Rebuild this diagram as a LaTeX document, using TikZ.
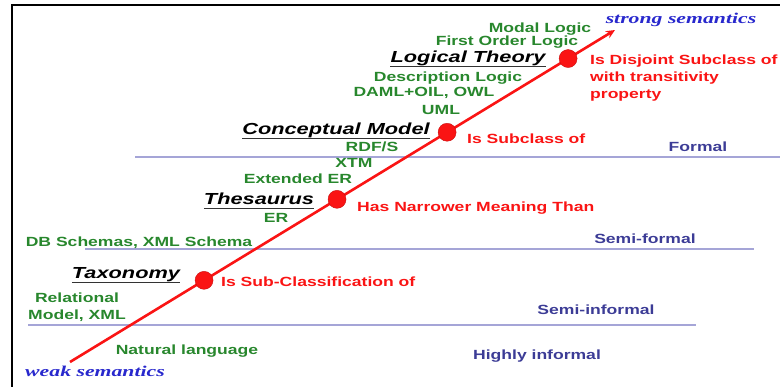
\documentclass[tikz,border=0pt]{standalone}
\usepackage{fontspec}
\setmainfont{Liberation Sans}[FakeStretch=1.32]
\newfontfamily\titlefont{Liberation Sans}[FakeStretch=1.36]
\newfontfamily\serfont{Liberation Serif}[FakeStretch=1.45]
\usetikzlibrary{arrows.meta,calc}
\definecolor{grn}{RGB}{40,135,45}
\definecolor{rd}{RGB}{250,20,20}
\definecolor{lbl}{RGB}{60,60,150}
\definecolor{sem}{RGB}{40,40,205}
\definecolor{lvl}{RGB}{165,165,215}
\tikzset{
  grtext/.style={inner sep=0pt, anchor=base, text=grn, font=\fontsize{13.3}{16.5}\selectfont\bfseries},
  rdtext/.style={inner sep=0pt, anchor=base west, text=rd, font=\fontsize{13.3}{17}\selectfont\bfseries, align=left},
  lbtext/.style={inner sep=0pt, anchor=base, text=lbl, font=\fontsize{13.3}{16}\selectfont\bfseries},
  semtext/.style={inner sep=0pt, anchor=base, text=sem, font=\fontsize{15}{18}\serfont\bfseries\itshape},
  ttext/.style={inner sep=0pt, anchor=base, text=black, font=\fontsize{16}{19}\titlefont\bfseries\itshape},
  ul/.style={line width=1.2pt, black!80},
  level/.style={line width=1.4pt, lvl},
  dot/.style={circle, fill=rd, draw=rd!80!black, line width=0.4pt, minimum size=18pt, inner sep=0pt},
  axis/.style={line width=2.6pt, rd, -{Stealth[length=9pt,width=8pt]}},
  frame/.style={line width=2pt, black}
}
\begin{document}
\begin{tikzpicture}[x=1pt,y=-1pt]
\useasboundingbox (0,0) rectangle (780,387);
% frame
\draw[frame] (12,387) -- (12,5) -- (780,5);
% level lines
\coordinate (f1) at (135,157); \coordinate (f2) at (780,157);
\coordinate (s1) at (85,249);  \coordinate (s2) at (754,249);
\coordinate (i1) at (28,325);  \coordinate (i2) at (696,325);
\draw[level] (f1) -- (f2);
\draw[level] (s1) -- (s2);
\draw[level] (i1) -- (i2);
% level labels
\node[lbtext] (formal) at (698,152) {Formal};
\node[lbtext] (semif) at (645,244) {Semi-formal};
\node[lbtext] (semii) at (596,315) {Semi-informal};
\node[lbtext] (highi) at (537,360) {Highly informal};
% axis
\coordinate (ws) at (70,362);
\coordinate (ss) at (615,30);
\draw[axis] (ws) -- (ss);
\node[dot] (d1) at ($(ws)!0.246!(ss)$) {};
\node[dot] (d2) at ($(ws)!0.490!(ss)$) {};
\node[dot] (d3) at ($(ws)!0.692!(ss)$) {};
\node[dot] (d4) at ($(ws)!0.914!(ss)$) {};
\node[semtext] (strong) at (681,24) {strong semantics};
\node[semtext] (weak) at (95,377) {weak semantics};
% titles
\node[ttext] (t4) at (468,62.5) {Logical Theory};
\node[ttext] (t3) at (336,134.5) {Conceptual Model};
\node[ttext] (t2) at (259,204.5) {Thesaurus};
\node[ttext] (t1) at (126,278.5) {Taxonomy};
\foreach \t in {t1,t2,t3,t4}{
  \draw[ul] ([yshift=-4pt]\t.base west) -- ([yshift=-4pt]\t.base east);
}
% green examples
\node[grtext] (g1) at (540,33) {Modal Logic};
\node[grtext] (g2) at (507,45.5) {First Order Logic};
\node[grtext] (g3) at (448,82) {Description Logic};
\node[grtext] (g4) at (424,97) {DAML+OIL, OWL};
\node[grtext] (g5) at (441,115) {UML};
\node[grtext] (g6) at (372,152) {RDF/S};
\node[grtext] (g7) at (354,168) {XTM};
\node[grtext] (g8) at (298,184) {Extended ER};
\node[grtext] (g9) at (276,223) {ER};
\node[grtext] (g10) at (139,247) {DB Schemas, XML Schema};
\node[grtext] (g11) at (77,303) {Relational};
\node[grtext] (g12) at (77,320) {Model, XML};
\node[grtext] (g13) at (187,355) {Natural language};
% red relations
\node[rdtext] (r1) at (221,287) {Is Sub-Classification of};
\node[rdtext] (r2) at (357,212) {Has Narrower Meaning Than};
\node[rdtext] (r3) at (467,144) {Is Subclass of};
\node[rdtext] (r4a) at (590,65) {Is Disjoint Subclass of};
\node[rdtext] (r4b) at (590,82) {with transitivity};
\node[rdtext] (r4c) at (590,99) {property};
\end{tikzpicture}
\end{document}
